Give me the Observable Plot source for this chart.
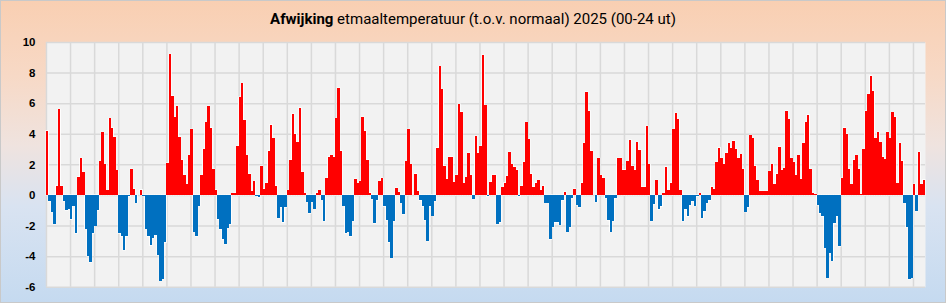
<!DOCTYPE html>
<html>
<head>
<meta charset="utf-8">
<script src="https://cdn.jsdelivr.net/npm/d3@7"></script>
<script src="https://cdn.jsdelivr.net/npm/@observablehq/plot@0.6"></script>
<style>
  html, body { margin: 0; padding: 0; }
  #card {
    position: relative;
    width: 946px; height: 303px; box-sizing: border-box;
    border: 1px solid #c9c9c9;
    background: linear-gradient(180deg, #f9cfb2 0%, #f7d9c6 25%, #efe3df 48%, #d9e3f1 68%, #c5daf0 100%);
    overflow: hidden;
  }
  #title {
    height: 34px; line-height: 36px; text-align: center;
    font-family: Roboto, "Liberation Sans", sans-serif; font-size: 15px; color: #000;
  }
  #title b { font-weight: 700; }
  #chart { position: absolute; left: -1px; top: 33px; }
</style>
</head>
<body>
<div id="card">
  <div id="title"><b>Afwijking</b> etmaaltemperatuur (t.o.v. normaal) 2025 (00-24 ut)</div>
  <div id="chart"></div>
</div>
<script>
// Daily temperature anomaly (°C) per month, 2025
const jan = [4.2,-0.4,-1.1,-1.9,0.6,5.6,0.6,-0.4,-1.0,-0.9,-1.6,-0.7,-2.5,1.2,2.4,1.5,-2.2,-4.0,-4.4,-2.5,-2.0,-1.0,2.2,4.1,2.0,0.3,5.0,4.4,3.8,1.6,-2.5];
const feb = [-2.7,-3.6,-2.7,-0.1,1.7,0.4,-0.5,0.0,0.35,-0.05,-2.2,-2.7,-3.3,-2.8,-2.6,-3.9,-5.6,-5.5,-3.1,2.1,9.2,6.5,5.1,5.8,3.8,2.3,1.3,0.7];
const mar = [2.6,4.3,-2.4,-2.7,-0.7,1.3,3.0,4.75,5.8,4.4,1.7,0.35,-1.6,-2.25,-2.9,-3.2,-2.15,-1.9,0.1,0.15,3.2,6.4,7.3,4.9,2.6,1.4,0.25,0.9,-0.05,-0.15,1.9];
const apr = [0.4,0.8,2.9,4.6,3.7,0.6,-1.5,-0.8,-1.8,-0.8,0.3,2.3,5.3,4.0,3.45,5.7,1.5,0.1,-0.45,-1.2,-0.45,-0.9,0.15,0.3,-0.3,-1.7,1.1,2.5,2.6,2.5];
const may = [5.0,7.0,2.9,-0.7,-2.5,-2.4,-2.7,-1.7,1.05,0.75,0.9,5.1,4.2,2.3,0.15,-0.25,-1.85,-0.35,0.9,1.1,-0.75,-1.65,-3.1,-4.1,-1.7,0.45,0.2,-0.5,-1.25,2.2,4.3];
const jun = [2.0,0.0,1.4,0.25,-0.35,-0.75,-1.65,-3.0,-0.75,-1.35,-0.4,3.1,8.4,6.9,1.9,1.05,2.5,2.5,0.85,1.3,5.95,5.45,0.75,1.15,2.75,1.3,-0.25,3.85,2.75,3.2];
const jul = [9.15,5.85,-0.1,0.85,1.3,1.3,-1.9,-1.8,0.5,0.8,1.25,2.8,2.0,1.85,1.65,-0.1,0.6,2.15,4.75,3.65,1.4,0.55,0.8,0.95,0.3,0.6,-0.5,-0.5,-2.9,-2.1,-1.8];
const aug = [-1.8,-1.95,-0.35,0.2,-2.4,-2.1,-0.2,0.4,-0.65,-0.8,0.8,3.4,6.75,5.5,2.9,0.0,-0.45,2.4,1.3,1.1,-0.2,-1.65,-2.4,-1.7,-0.2,2.4,2.4,1.65,1.65,2.2,3.6];
const sep = [1.9,1.65,3.45,2.95,0.55,0.55,4.5,2.0,-1.7,-0.6,0.95,-0.95,-0.75,0.1,1.85,0.3,0.8,4.3,5.35,4.95,0.3,-1.7,-0.95,-1.4,-0.65,-0.4,-0.7,-0.1,0.1,-1.5];
const oct = [-1.05,-0.5,-0.35,0.55,0.4,2.15,3.1,2.4,2.0,2.75,3.4,3.1,3.55,3.0,2.4,2.65,1.7,-1.1,-0.8,3.9,3.7,1.9,0.95,0.25,0.25,0.25,0.25,1.55,2.0,0.7,1.4];
const nov = [3.15,1.65,1.75,5.5,4.95,2.4,2.15,1.3,2.6,1.05,3.4,4.75,5.25,1.7,0.1,0.05,-0.65,-1.2,-1.4,-3.45,-5.4,-3.8,-4.3,-1.85,-1.4,-3.35,1.1,4.4,4.0,1.7];
const dec = [0.7,2.3,2.6,1.7,0.05,3.0,5.5,6.6,7.8,6.8,3.7,4.1,3.45,2.5,2.35,4.1,3.7,5.4,5.1,0.75,3.4,2.25,-0.5,-2.1,-5.5,-5.4,0.7,-1.05,2.8,0.7,1.0];

const yTicks = [-6, -4, -2, 0, 2, 4, 6, 8, 10];
const colorPos = "#ff0000";
const colorNeg = "#0070c0";

const values = [jan, feb, mar, apr, may, jun, jul, aug, sep, oct, nov, dec].flat();
const data = values.map((v, i) => ({day: i, v}));
const xGrid = d3.range(0, values.length, 10);

const chart = Plot.plot({
  width: 946,
  height: 269,
  marginTop: 8,
  marginBottom: 16,
  marginLeft: 46,
  marginRight: 20,
  style: {background: "transparent", fontFamily: "'Liberation Sans', Arial, sans-serif", fontSize: "11.5px", fontWeight: "bold", color: "#000"},
  x: {domain: [0, values.length], axis: null},
  y: {domain: [-6, 10], ticks: yTicks, tickSize: 0, tickPadding: 11, tickFormat: d => String(d), label: null},
  marks: [
    Plot.frame({fill: "#f2f2f2", stroke: null}),
    Plot.ruleX(xGrid, {x: d => d, stroke: "#d9d9d9", strokeWidth: 1.5}),
    Plot.ruleY(yTicks, {y: d => d, stroke: "#d9d9d9", strokeWidth: 1.5}),
    Plot.rect(data, {x1: "day", x2: d => d.day + 1, y1: d => 0, y2: "v", fill: "white", stroke: "white", strokeWidth: 1.2, strokeOpacity: 0.8}),
    Plot.rect(data, {x1: "day", x2: d => d.day + 1, y1: d => 0, y2: "v", fill: d => d.v >= 0 ? colorPos : colorNeg, shapeRendering: "crispEdges"})
  ]
});
document.getElementById("chart").appendChild(chart);
</script>
</body>
</html>
